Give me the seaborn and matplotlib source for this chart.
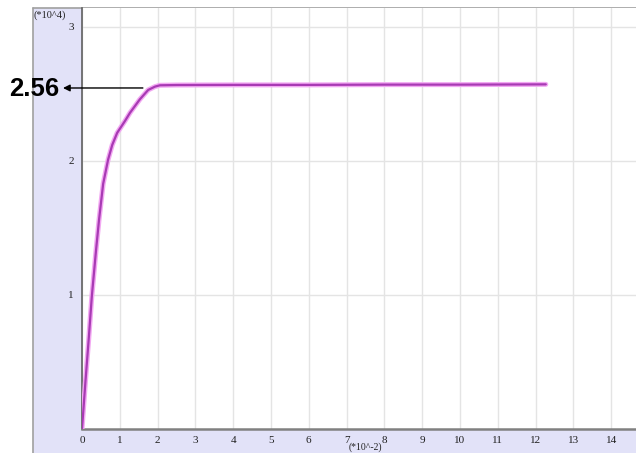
import matplotlib
matplotlib.use("Agg")
import matplotlib.pyplot as plt
from matplotlib.patches import Rectangle
from matplotlib.lines import Line2D
import seaborn as sns
import pandas as pd

# data (x in units of 1e-2, y in units of 1e4)
x_vals = [0, 0.09, 0.18, 0.26, 0.37, 0.45, 0.56, 0.69, 0.8, 0.93, 1.14, 1.27,
          1.53, 1.75, 1.93, 2.06, 2.5, 4, 6, 8, 10, 12.27]
y_vals = [0, 0.35, 0.68, 0.99, 1.33, 1.56, 1.83, 2.01, 2.12, 2.21, 2.30, 2.36,
          2.46, 2.53, 2.555, 2.565, 2.567, 2.568, 2.568, 2.57, 2.57, 2.572]
x_ticks = list(range(0, 15))
y_ticks = [1, 2, 3]
annot_label = "2.56"
annot_value = 2.545
x_unit = "(*10^-2)"
y_unit = "(*10^4)"

df = pd.DataFrame({"x": x_vals, "y": y_vals})

sns.set_style("white")
plt.rcParams["font.family"] = ["Liberation Serif", "DejaVu Serif"]

W, H = 636, 453
fig = plt.figure(figsize=(W / 100, H / 100), dpi=100)
fig.patch.set_facecolor("white")

# lavender frame
fig.patches.append(Rectangle((33 / W, 0), 1 - 33 / W, 1 - 8 / H, transform=fig.transFigure,
                             facecolor="#e2e2f8", edgecolor="none", zorder=-10))
fig.lines.append(Line2D([33 / W, 1], [1 - 8 / H, 1 - 8 / H], transform=fig.transFigure,
                        color="#a0a0a0", lw=1.2, zorder=-5))
fig.lines.append(Line2D([33 / W, 33 / W], [0, 1 - 8 / H], transform=fig.transFigure,
                        color="#a0a0a0", lw=1.2, zorder=-5))

ax = fig.add_axes([82 / W, 1 - 429 / H, 1 - 82 / W, (429 - 8) / H])
ax.set_zorder(1)
ax.set_facecolor("white")

sns.lineplot(data=df, x="x", y="y", ax=ax, sort=False, color="#f2a8f2", lw=3.6, zorder=3)
sns.lineplot(data=df, x="x", y="y", ax=ax, sort=False, color="#a83ab4", lw=1.6, zorder=4)

ax.set_xlim(0, (636 - 82) / 37.8)
ax.set_ylim(0, (429 - 8) / 134.0)
ax.set_xticks(x_ticks)
ax.set_yticks(y_ticks)
ax.set_xticklabels([str(t) for t in x_ticks])
ax.set_yticklabels([str(t) for t in y_ticks])
ax.set_xlabel("")
ax.set_ylabel("")
ax.grid(True, color="#e4e4e4", lw=1.0)
ax.tick_params(axis="both", direction="out", length=4, width=1, color="#606060",
               labelsize=8, labelcolor="#202020", pad=2)
ax.tick_params(axis="x", length=3)
for s in ["top", "right"]:
    ax.spines[s].set_visible(False)
ax.spines["left"].set_color("#606060")
ax.spines["left"].set_linewidth(1.2)
ax.spines["bottom"].set_color("#808080")
ax.spines["bottom"].set_linewidth(1.8)

fig.text(34 / W, 1 - 15 / H, y_unit, fontsize=7.5, ha="left", va="center", color="#202020")
fig.text(365 / W, 1 - 447 / H, x_unit, fontsize=7, ha="center", va="center", color="#202020")

ax.annotate("", xy=(63 / W, 1 - 88 / H), xycoords="figure fraction",
            xytext=(1.61, annot_value), textcoords="data",
            arrowprops=dict(arrowstyle="-|>", color="black", lw=1.0,
                            mutation_scale=10, shrinkA=0, shrinkB=0),
            annotation_clip=False)
fig.text(34 / W, 1 - 89 / H, annot_label, fontsize=18.5, fontweight="bold",
         family=["Liberation Sans", "DejaVu Sans"], ha="center", va="center", color="black")

fig.savefig("out.png", dpi=100)
